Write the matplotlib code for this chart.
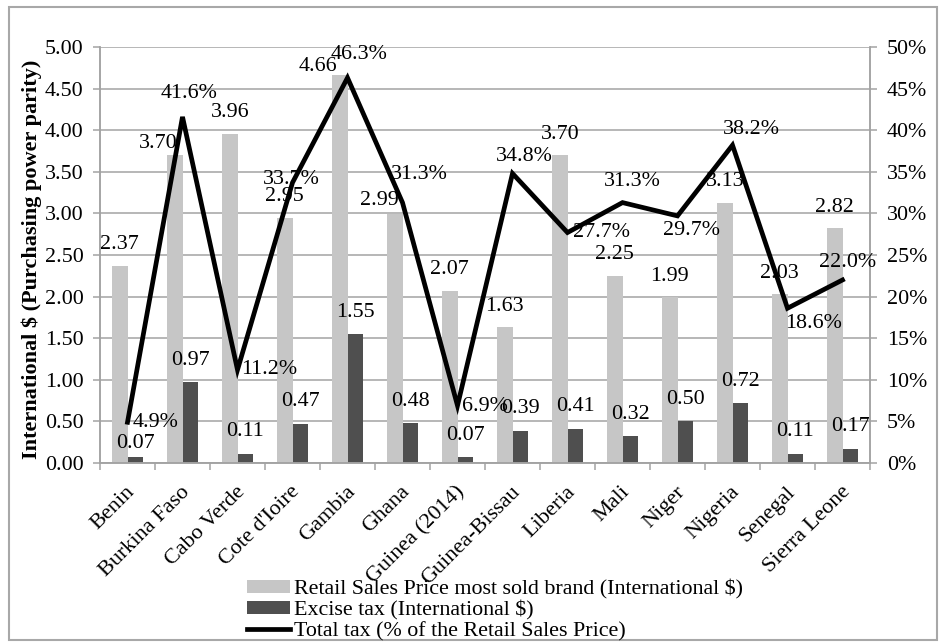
import numpy as np
import matplotlib
matplotlib.use("Agg")
import matplotlib.pyplot as plt
from matplotlib.patches import Patch, Rectangle
from matplotlib.lines import Line2D
import matplotlib.transforms as mtransforms

plt.rcParams['font.family'] = ['Liberation Serif', 'DejaVu Serif']

countries = ["Benin", "Burkina Faso", "Cabo Verde", "Cote d'Ioire", "Gambia", "Ghana",
             "Guinea (2014)", "Guinea-Bissau", "Liberia", "Mali", "Niger", "Nigeria",
             "Senegal", "Sierra Leone"]
retail_price = [2.37, 3.70, 3.96, 2.95, 4.66, 2.99, 2.07, 1.63, 3.70, 2.25, 1.99, 3.13, 2.03, 2.82]
excise_tax = [0.07, 0.97, 0.11, 0.47, 1.55, 0.48, 0.07, 0.39, 0.41, 0.32, 0.50, 0.72, 0.11, 0.17]
total_tax_pct = [4.9, 41.6, 11.2, 33.7, 46.3, 31.3, 6.9, 34.8, 27.7, 31.3, 29.7, 38.2, 18.6, 22.0]

left_ticks = [0.0, 0.5, 1.0, 1.5, 2.0, 2.5, 3.0, 3.5, 4.0, 4.5, 5.0]
right_ticks = [0, 5, 10, 15, 20, 25, 30, 35, 40, 45, 50]

# label placement (pixel offsets)
retail_lbl_off = [(0, 21), (-17, 12), (0, 21), (0, 21), (-22, 9), (-15, 14), (0, 21),
                  (0, 21), (0, 21), (0, 21), (0, 21), (0, 21), (0, 21), (0, 21)]
excise_lbl_off = [(0, 14)] + [(0, 22)] * 13
line_lbl_off = [(5, 0, 'left'), (7, 23, 'center'), (4, 0, 'left'), (-1, 3, 'center'),
                (12, 23, 'center'), (17, 28, 'center'), (4, -1, 'left'), (12, 17, 'center'),
                (5, 0, 'left'), (10, 21, 'center'), (14, -15, 'center'), (19, 16, 'center'),
                (26, -15, 'center'), (5, 17, 'center')]

LIGHT = '#C6C6C6'
DARK = '#4F4F4F'
GRID = '#A3A3A3'
FS = 15.8

W, H = 946, 643
fig = plt.figure(figsize=(W / 100, H / 100), dpi=100)
fig.patch.set_facecolor('white')
fig.add_artist(Rectangle((9 / W, 1 - 640 / H), 928 / W, 633 / H, transform=fig.transFigure,
                         fill=False, edgecolor='#A8A8A8', lw=1.5))

ax = fig.add_axes([100 / W, 1 - 463 / H, 770 / W, 416 / H])
ax2 = ax.twinx()

x = np.arange(len(countries))
bw = 0.28
ax.bar(x - bw / 2, retail_price, bw, color=LIGHT, zorder=2)
ax.bar(x + bw / 2, excise_tax, bw, color=DARK, zorder=2)

ax.set_xlim(-0.5, len(countries) - 0.5)
ax.set_ylim(0, 5)
ax.set_yticks(left_ticks)
ax.set_yticklabels([f"{v:.2f}" for v in left_ticks], fontsize=FS)
ax.yaxis.grid(True, color=GRID, lw=1.1, zorder=0)
ax.set_axisbelow(True)

ax.set_xticks(x)
ax.set_xticks(np.arange(len(countries) + 1) - 0.5, minor=True)
ax.tick_params(axis='x', which='major', length=0, pad=14)
ax.tick_params(axis='x', which='minor', length=5, color=GRID, width=1.1, direction='out')
ax.tick_params(axis='y', length=5, color=GRID, width=1.1, pad=7)
labels = ax.set_xticklabels(countries, fontsize=16, rotation=45, ha='right',
                            rotation_mode='anchor')
offset = mtransforms.ScaledTranslation(-2 / 100, 0, fig.dpi_scale_trans)
for lb in labels:
    lb.set_transform(lb.get_transform() + offset)

for s in ['top']:
    ax.spines[s].set_visible(False)
    ax2.spines[s].set_visible(False)
for s in ['left', 'bottom', 'right']:
    ax.spines[s].set_color(GRID)
    ax.spines[s].set_linewidth(1.1)
    ax2.spines[s].set_color(GRID)
    ax2.spines[s].set_linewidth(1.1)

for xi, v, (dx, dy) in zip(x, retail_price, retail_lbl_off):
    ax.annotate(f"{v:.2f}", (xi - bw / 2, v), xytext=(dx, dy), textcoords='offset pixels',
                ha='center', va='center', fontsize=FS, zorder=5)
for xi, v, (dx, dy) in zip(x, excise_tax, excise_lbl_off):
    ax.annotate(f"{v:.2f}", (xi + bw / 2, v), xytext=(dx, dy), textcoords='offset pixels',
                ha='center', va='center', fontsize=FS, zorder=5)

tt = np.array(total_tax_pct) / 100.0
ax2.plot(x, tt, color='black', lw=3.4, zorder=4, solid_joinstyle='miter')
ax2.set_ylim(0, 0.5)
ax2.set_yticks([v / 100 for v in right_ticks])
ax2.set_yticklabels([f"{v}%" for v in right_ticks], fontsize=FS)
ax2.tick_params(axis='y', length=5, color=GRID, width=1.1, pad=7)
for xi, v, (dx, dy, ha) in zip(x, tt, line_lbl_off):
    ax2.annotate(f"{v * 100:.1f}%", (xi, v), xytext=(dx, dy), textcoords='offset pixels',
                 ha=ha, va='center', fontsize=FS, zorder=6)

fig.text(32 / W, 1 - 259 / H, "International $ (Purchasing power parity)", rotation=90,
         ha='center', va='center', fontsize=16, fontweight='bold')

handles = [Patch(facecolor=LIGHT, edgecolor='none'),
           Patch(facecolor=DARK, edgecolor='none'),
           Line2D([0], [0], color='black', lw=3.4)]
names = ["Retail Sales Price most sold brand (International $)",
         "Excise tax (International $)",
         "Total tax (% of the Retail Sales Price)"]
fig.legend(handles, names, loc='upper left', bbox_to_anchor=(247 / W, 1 - 579 / H),
           frameon=False, fontsize=FS, handlelength=1.95, handleheight=0.55,
           handletextpad=0.2, labelspacing=0.07, borderpad=0, borderaxespad=0)

fig.savefig("out.png", dpi=100)
